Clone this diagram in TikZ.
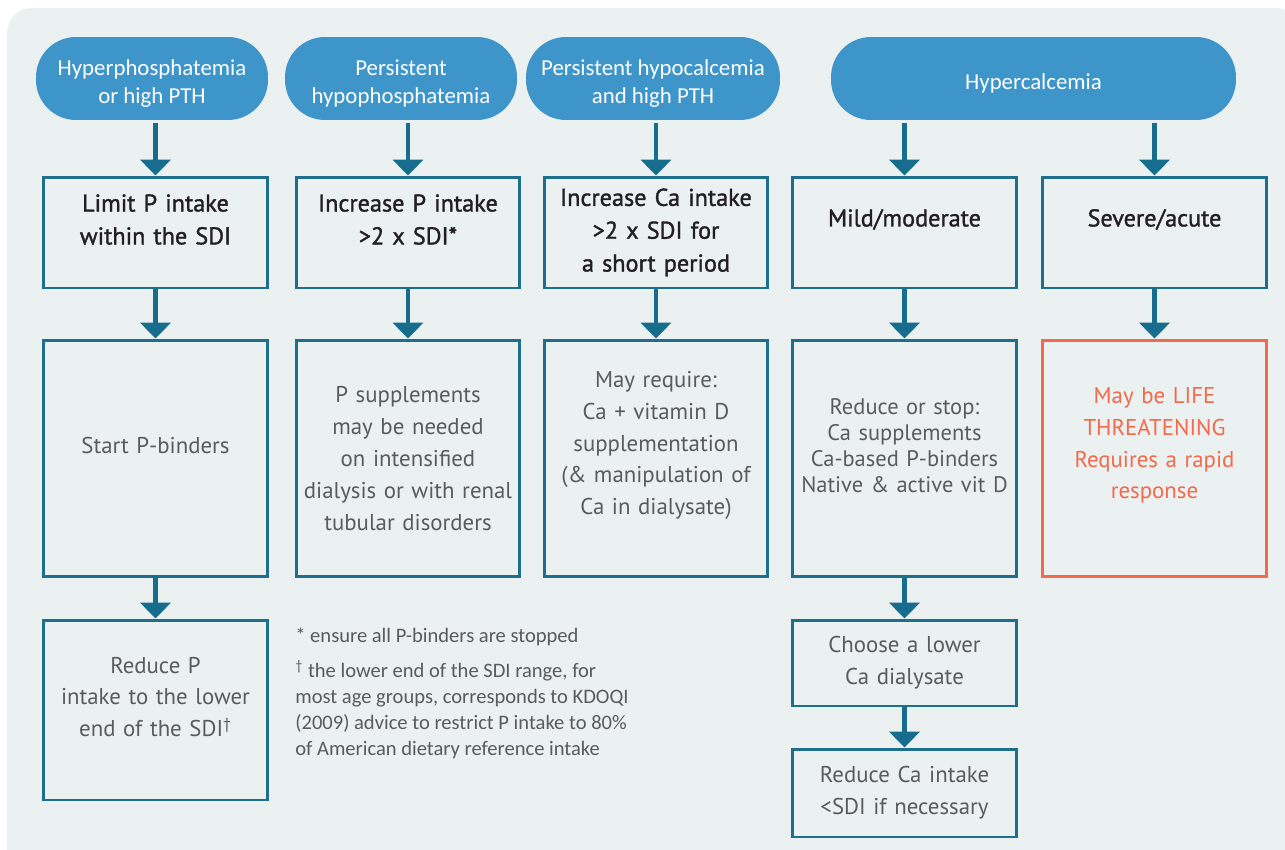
\documentclass[tikz,border=0pt]{standalone}
\usepackage{fontspec}
\setmainfont{PT Sans}
\newfontfamily\pillfont{Carlito}
\newfontfamily\headfont[RawFeature={embolden=1.3}]{PT Sans}
\usetikzlibrary{arrows.meta}
\definecolor{bgc}{HTML}{EBF0F0}
\definecolor{pillc}{HTML}{3D95CA}
\definecolor{linec}{HTML}{1E6F8E}
\definecolor{arrowc}{HTML}{176D8D}
\definecolor{darktxt}{HTML}{231F20}
\definecolor{graytxt}{HTML}{5A5B5D}
\definecolor{warnc}{HTML}{F26A4B}
\newcommand{\liftgap}{\par\vspace*{0.52cm}}
\newcommand{\dropgap}{\rule{0pt}{0.52cm}}

\begin{document}
\begin{tikzpicture}[x=0.02cm,y=-0.02cm]
  \tikzstyle{pill}=[rounded corners=0.8cm, fill=pillc, text=white, minimum height=1.66cm, align=center, inner sep=0pt, font=\pillfont\fontsize{13}{15.9}\selectfont]
  \tikzstyle{box}=[draw=linec, line width=1.7pt, fill=bgc, minimum width=4.48cm, text width=4.3cm, align=center, inner sep=0pt, text=graytxt, font=\fontsize{13}{18.1}\selectfont]
  \tikzstyle{head}=[box, text=darktxt, minimum height=2.22cm, font=\headfont\fontsize{13.8}{18.7}\selectfont]
  \tikzstyle{tall}=[box, minimum height=4.74cm]
  \tikzstyle{raised}=[execute at end node=\liftgap]
  \tikzstyle{flow}=[-{Triangle[width=17pt,length=9pt]}, line width=2.8pt, color=arrowc]
  \tikzstyle{note}=[anchor=north west, align=left, inner sep=0pt, text=graytxt, font=\pillfont\fontsize{11.7}{14.7}\selectfont]

  \useasboundingbox (0,0) rectangle (1285,849);
  \fill[bgc, rounded corners=0.5cm] (7,8) rectangle (1300,880);

  % trigger pills
  \node[pill, minimum width=4.64cm] (hyperp) at (152,78.5) {\dropgap Hyperphosphatemia\\or high PTH};
  \node[pill, minimum width=4.64cm] (hypop) at (401,78.5) {\dropgap Persistent\\hypophosphatemia};
  \node[pill, minimum width=5.08cm] (hypoca) at (653,78.5) {\dropgap Persistent hypocalcemia\\and high PTH};
  \node[pill, minimum width=8.1cm] (hyperca) at (1033.5,78.5) {\dropgap Hypercalcemia};

  % first step
  \node[head, raised] (limitp) at (155.5,232.5) {Limit P intake\\within the SDI};
  \node[head, raised] (incp) at (408,232.5) {Increase P intake\\>2 x SDI*};
  \node[head] (incca) at (656,232.5) {Increase Ca intake\\>2 x SDI for\\a short period};
  \node[head, raised] (mild) at (904.5,232.5) {Mild/moderate};
  \node[head, raised] (severe) at (1154.5,232.5) {Severe/acute};

  % second step
  \node[tall, raised] (binders) at (155.5,458.5) {Start P-binders};
  \node[tall] (psupp) at (408,458.5) {P supplements\\may be needed\\on intensified\\dialysis or with renal\\tubular disorders};
  \node[tall, raised] (mayreq) at (656,458.5) {May require:\\Ca + vitamin D\\supplementation\\(\& manipulation of\\Ca in dialysate)};
  \node[tall, raised, font=\fontsize{12.8}{14.7}\selectfont] (reduce) at (904.5,458.5) {Reduce or stop:\\Ca supplements\\Ca-based P-binders\\Native \& active vit D};
  \node[tall, raised, draw=warnc, text=warnc] (life) at (1154.5,458.5) {May be LIFE\\THREATENING\\Requires a rapid\\response};

  % last steps
  \node[box, raised, minimum height=3.6cm] (lowerp) at (155.5,710) {Reduce P\\intake to the lower\\end of the SDI\textsuperscript{†}};
  \node[box, minimum height=1.72cm] (lowerca) at (904.5,663) {Choose a lower\\Ca dialysate};
  \node[box, minimum height=1.76cm] (reduceca) at (904.5,793) {Reduce Ca intake\\<SDI if necessary};

  \node[note] (notes) at (295,628) {* ensure all P-binders are stopped\\[5.1pt]\textsuperscript{†} the lower end of the SDI range, for\\most age groups, corresponds to KDOQI\\(2009) advice to restrict P intake to 80\%\\of American dietary reference intake};

  \foreach \a/\b in {hyperp/limitp,hypop/incp,hypoca/incca,hyperca/mild,hyperca/severe} {
    \draw[flow, shorten <=1.5pt] (\a.south -| \b) -- (\b.north);
  }
  \foreach \a/\b in {limitp/binders,binders/lowerp,incp/psupp,incca/mayreq,mild/reduce,severe/life,reduce/lowerca,lowerca/reduceca} {
    \draw[flow] (\a.south) -- (\b.north);
  }
\end{tikzpicture}
\end{document}
